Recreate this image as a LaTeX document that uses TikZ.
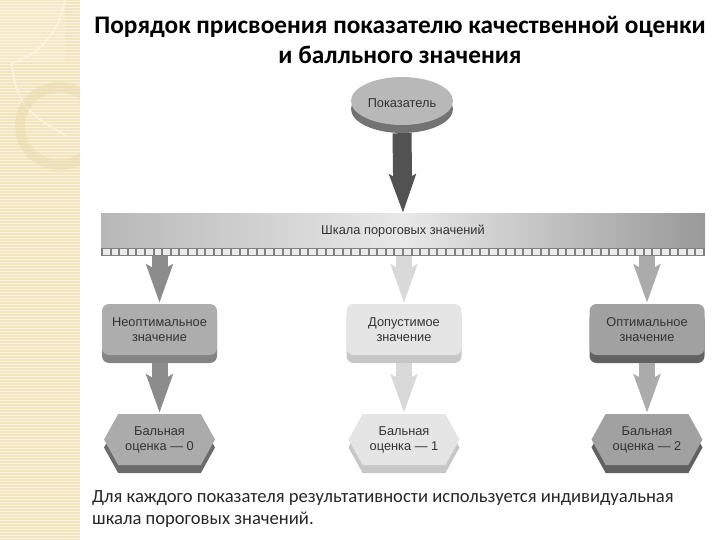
\documentclass[tikz,border=0pt]{standalone}
\usepackage{fontspec}
\setmainfont{Carlito}
\setsansfont{Liberation Sans}
\usetikzlibrary{arrows.meta,shadows,shapes.geometric,shapes.symbols}
\definecolor{band}{HTML}{F1E4BE}
\definecolor{bandline}{HTML}{FAF3DE}
\definecolor{ringc}{HTML}{EADAA6}
\begin{document}
\begin{tikzpicture}[x=1pt,y=-1pt,
		every node/.style = {align=center, inner sep=0pt, font=\sffamily\fontsize{12.8}{15}\selectfont, text=black!80}]
			\tikzstyle{flat}=[rectangle, rounded corners=7pt, minimum width=115pt, minimum height=51pt]
			\tikzstyle{hexa}=[signal, signal to=east and west, signal pointer angle=122, minimum width=111pt, minimum height=51pt, execute at begin node={\rule{0pt}{25pt}}]
			\tikzstyle{link}=[line width=16pt, -{Stealth[length=38pt,width=26pt,inset=7pt]}, shorten >=1pt]
			\tikzstyle{low}=[general shadow={shadow yshift=-8pt, fill=#1}]
			\useasboundingbox (0,0) rectangle (720,540);
			% left band
			\fill[band] (0,0) rectangle (80,540);
			\begin{scope}
				\clip (0,0) rectangle (80,540);
				\fill[bandline, opacity=.4] (0,0) rectangle (65,63);
				\draw[bandline, line width=2pt] (65,0) .. controls (60,30) and (40,55) .. (12,63);
				\draw[bandline, line width=2pt] (12,63) .. controls (15,110) and (40,120) .. (65,135);
				\foreach \y in {1,4,...,538}
					\draw[bandline, line width=.6pt] (0,\y) -- (80,\y);
				\fill[ringc, even odd rule, opacity=.45] (59,126) circle (44) (59,126) circle (34);
			\end{scope}
			% title
			\node[font=\fontsize{25.3}{30}\selectfont\bfseries, text=black] (title) at (400,40) {Порядок присвоения показателю качественной оценки\\и балльного значения};
			% nodes
			\node[ellipse, minimum width=102pt, minimum height=48pt, fill=black!28, low=black!55, execute at begin node={\rule{0pt}{13pt}}] (source) at (402,101) {Показатель};
			\node[rectangle, minimum width=604pt, minimum height=34pt, left color=black!28, right color=black!40, middle color=black!9] (scale) at (403,231) {Шкала пороговых значений};
			\fill[black!50] (101,248) rectangle (705,256);
			\node[rectangle, minimum width=604pt, minimum height=8pt] (ruler) at (403,252) {};
			\foreach \i in {0,...,69}
				\fill[white!92!black] (103+8.6*\i,249) rectangle +(6.6,6);
			\node[flat, fill=black!32, low=black!48] (bad) at (159.5,329.5) {Неоптимальное\\значение};
			\node[flat, fill=black!10, low=black!22] (fair) at (404,329.5) {Допустимое\\значение};
			\node[flat, fill=black!37, low=black!62] (good) at (647,329.5) {Оптимальное\\значение};
			\node[hexa, fill=black!33, low=black!58] (zero) at (159.5,439.5) {Бальная\\оценка — 0};
			\node[hexa, fill=black!10, low=black!22] (one) at (404,439.5) {Бальная\\оценка — 1};
			\node[hexa, fill=black!37, low=black!62] (two) at (647,439.5) {Бальная\\оценка — 2};
			% links
			\draw[link, line width=19pt, black!68] ([yshift=-8pt]source.south) -- (scale.north);
			\draw[link, black!45] (ruler.south -| bad.north) -- (bad.north);
			\draw[link, black!15] (ruler.south -| fair.north) -- (fair.north);
			\draw[link, black!33] (ruler.south -| good.north) -- (good.north);
			\draw[link, black!45] ([yshift=-8pt]bad.south) -- (zero.north);
			\draw[link, black!15] ([yshift=-8pt]fair.south) -- (one.north);
			\draw[link, black!33] ([yshift=-8pt]good.south) -- (two.north);
			% note
			\node[font=\fontsize{18.6}{22}\selectfont, text=black!85, align=left, anchor=north west] (note) at (92,490) {Для каждого показателя результативности используется индивидуальная\\шкала пороговых  значений.};
		\end{tikzpicture}
\end{document}
